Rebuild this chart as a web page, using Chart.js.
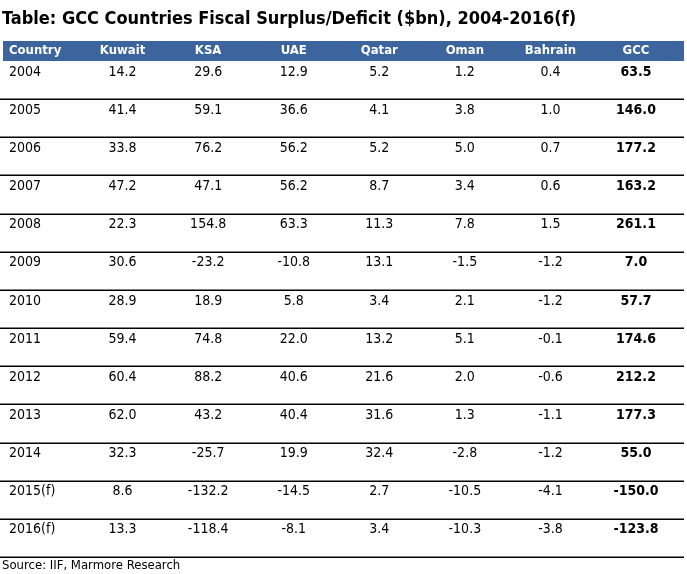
<!DOCTYPE html>
<html>
<head>
<meta charset="utf-8">
<script src="https://cdn.jsdelivr.net/npm/chart.js@4/dist/chart.umd.min.js"></script>
<style>
  html, body { margin: 0; padding: 0; background: #fff; }
  #wrap { width: 687px; height: 574px; }
</style>
</head>
<body>
<div id="wrap"><canvas id="fiscal-table"></canvas></div>
<script>
// table content
const columns = ['Country', 'Kuwait', 'KSA', 'UAE', 'Qatar', 'Oman', 'Bahrain', 'GCC'];
const years = ['2004', '2005', '2006', '2007', '2008', '2009', '2010', '2011', '2012', '2013', '2014', '2015(f)', '2016(f)'];
const kuwait  = [14.2, 41.4, 33.8, 47.2, 22.3, 30.6, 28.9, 59.4, 60.4, 62.0, 32.3, 8.6, 13.3];
const ksa     = [29.6, 59.1, 76.2, 47.1, 154.8, -23.2, 18.9, 74.8, 88.2, 43.2, -25.7, -132.2, -118.4];
const uae     = [12.9, 36.6, 56.2, 56.2, 63.3, -10.8, 5.8, 22.0, 40.6, 40.4, 19.9, -14.5, -8.1];
const qatar   = [5.2, 4.1, 5.2, 8.7, 11.3, 13.1, 3.4, 13.2, 21.6, 31.6, 32.4, 2.7, 3.4];
const oman    = [1.2, 3.8, 5.0, 3.4, 7.8, -1.5, 2.1, 5.1, 2.0, 1.3, -2.8, -10.5, -10.3];
const bahrain = [0.4, 1.0, 0.7, 0.6, 1.5, -1.2, -1.2, -0.1, -0.6, -1.1, -1.2, -4.1, -3.8];
const gcc     = [63.5, 146.0, 177.2, 163.2, 261.1, 7.0, 57.7, 174.6, 212.2, 177.3, 55.0, -150.0, -123.8];

const titleText = 'Table: GCC Countries Fiscal Surplus/Deficit ($bn), 2004-2016(f)';
const sourceText = 'Source: IIF, Marmore Research';

const FONT = "'DejaVu Sans Condensed', 'DejaVu Sans', sans-serif";
const HEADER_BLUE = '#3d659d';

const seriesList = [kuwait, ksa, uae, qatar, oman, bahrain, gcc];

// one dataset per column, each point sits in its cell via the category scales
const datasets = [{
    label: columns[0],
    data: years.map(y => ({ x: columns[0], y: y })),
    texts: years.slice(),
    bold: false
}].concat(seriesList.map((vals, i) => ({
    label: columns[i + 1],
    data: years.map(y => ({ x: columns[i + 1], y: y })),
    texts: vals.map(v => v.toFixed(1)),
    bold: columns[i + 1] === 'GCC'
})));

const tablePlugin = {
    id: 'tableCells',
    afterDatasetsDraw(chart) {
        const { ctx, chartArea, scales } = chart;
        const xs = scales.x, ys = scales.y;
        const rowH = ys.getPixelForValue(1) - ys.getPixelForValue(0);
        const leftX = 9;
        ctx.save();

        // title + source
        ctx.fillStyle = '#000';
        ctx.textAlign = 'left';
        ctx.textBaseline = 'middle';
        ctx.font = 'bold 18px ' + FONT;
        ctx.fillText(titleText, 2, 19);
        ctx.font = '13px ' + FONT;
        ctx.fillText(sourceText, 2, 566);

        // header band
        ctx.fillStyle = HEADER_BLUE;
        ctx.fillRect(3, chartArea.top - 20, 681, 20);
        ctx.fillStyle = '#fff';
        ctx.font = 'bold 13px ' + FONT;
        columns.forEach((c, i) => {
            if (i === 0) {
                ctx.textAlign = 'left';
                ctx.fillText(c, leftX, chartArea.top - 10);
            } else {
                ctx.textAlign = 'center';
                ctx.fillText(c, xs.getPixelForValue(i), chartArea.top - 10);
            }
        });

        // row separators
        ctx.strokeStyle = '#000';
        ctx.lineWidth = 1.5;
        years.forEach((y, i) => {
            const yy = Math.round(ys.getPixelForValue(i) + rowH / 2) + 0.25;
            ctx.beginPath();
            ctx.moveTo(0, yy);
            ctx.lineTo(684, yy);
            ctx.stroke();
        });

        // cells
        ctx.fillStyle = '#000';
        chart.data.datasets.forEach((ds, di) => {
            const meta = chart.getDatasetMeta(di);
            ctx.font = (ds.bold ? 'bold ' : '') + '14px ' + FONT;
            meta.data.forEach((pt, j) => {
                const ty = pt.y - rowH / 2 + 11;
                if (di === 0) {
                    ctx.textAlign = 'left';
                    ctx.fillText(ds.texts[j], leftX, ty);
                } else {
                    ctx.textAlign = 'center';
                    ctx.fillText(ds.texts[j], pt.x, ty);
                }
            });
        });
        ctx.restore();
    }
};

new Chart(document.getElementById('fiscal-table'), {
    type: 'scatter',
    data: { datasets },
    options: {
        responsive: true,
        maintainAspectRatio: false,
        animation: false,
        events: [],
        elements: { point: { radius: 0, hoverRadius: 0 } },
        layout: { padding: { top: 61, bottom: 17, left: 37, right: 51 } },
        scales: {
            x: { type: 'category', labels: columns, offset: false, display: false },
            y: { type: 'category', labels: years, offset: true, display: false }
        },
        plugins: {
            legend: { display: false },
            tooltip: { enabled: false },
            title: { display: false },
            subtitle: { display: false }
        }
    },
    plugins: [tablePlugin]
});
</script>
</body>
</html>
